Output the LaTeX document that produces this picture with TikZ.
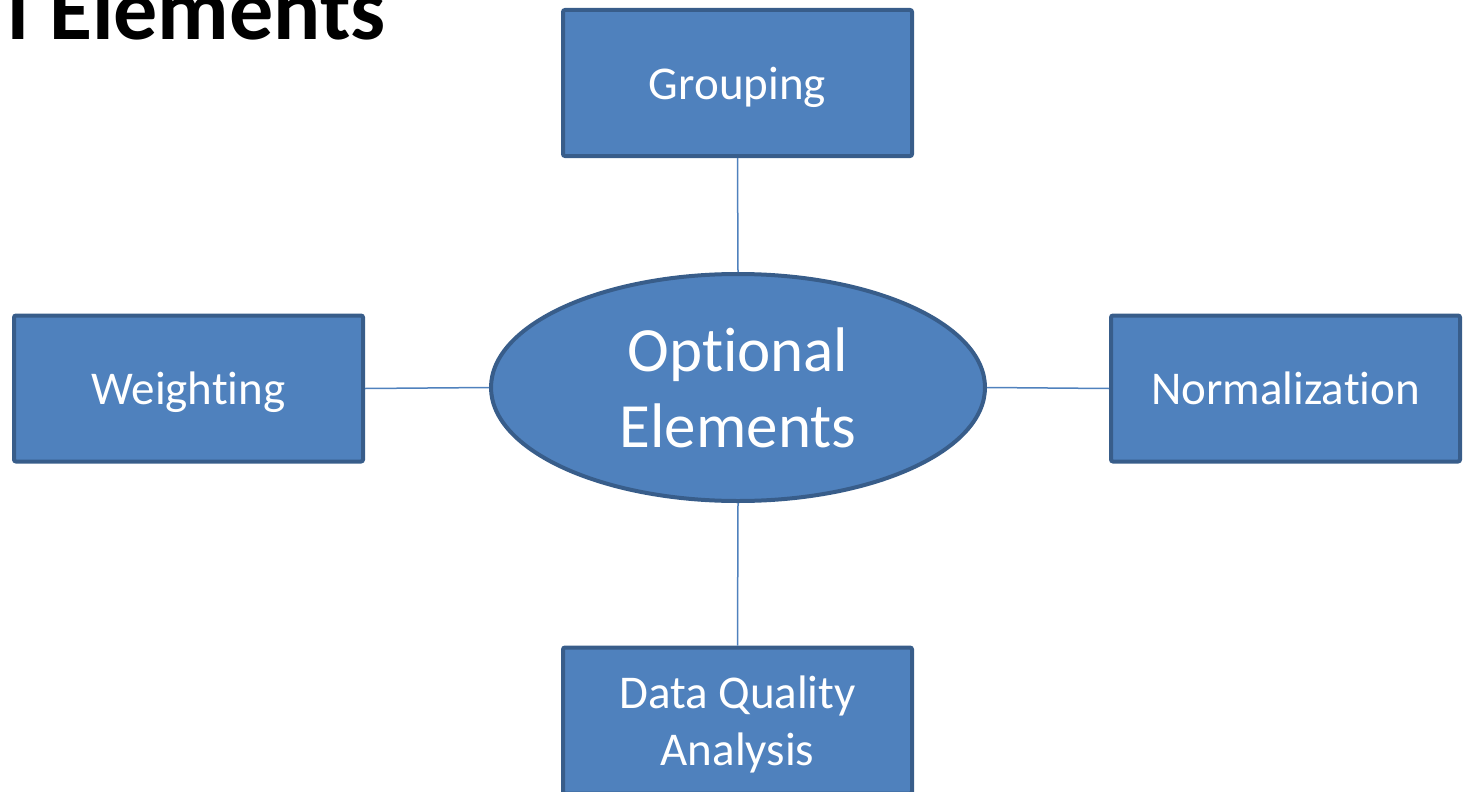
\documentclass[tikz,border=0pt]{standalone}
\usepackage{fontspec}
\setmainfont[Ligatures={NoCommon}]{Carlito}
\usetikzlibrary{shapes.geometric}
\definecolor{boxfill}{HTML}{4F81BD}
\definecolor{boxline}{HTML}{385D8A}
\definecolor{conn}{HTML}{4F81BD}
\tikzset{
  optbox/.style={draw=boxline, fill=boxfill, line width=4pt, rounded corners=2pt,
    minimum width=349pt, minimum height=146pt, inner sep=0pt, text=white,
    align=center, text depth=0pt, font=\fontsize{47}{57}\selectfont},
  centre/.style={ellipse, draw=boxline, fill=boxfill, line width=4pt,
    minimum width=494pt, minimum height=227pt, inner sep=0pt, text=white,
    align=center, font=\fontsize{63}{76}\selectfont},
  link/.style={draw=conn, line width=1.5pt},
  titletext/.style={font=\fontsize{88}{100}\selectfont\bfseries, text=black, inner sep=0pt}
}
\begin{document}
\begin{tikzpicture}[x=1pt,y=-1pt]
\useasboundingbox (0,0) rectangle (1464,792);
\clip (0,0) rectangle (1464,792);
\node[titletext, anchor=base east] (title) at (386,40) {l Elements};
\node[centre] (c) at (738,387.5) {Optional\\Elements};
\node[optbox] (g) at (737.5,83) {Grouping};
\node[optbox] (w) at (188.5,388.5) {Weighting};
\node[optbox] (n) at (1285.5,388.5) {Normalization};
\node[optbox] (d) at (737.5,720.5) {Data Quality\\Analysis};
\draw[link] (g.south) -- (c.north);
\draw[link] (c.south) -- (d.north);
\draw[link] (w.east) -- (c.west);
\draw[link] (c.east) -- (n.west);
\end{tikzpicture}
\end{document}
